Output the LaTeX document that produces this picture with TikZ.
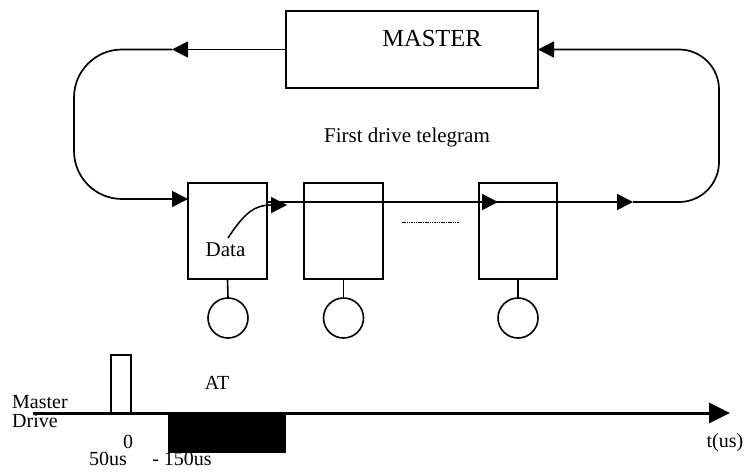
\documentclass[tikz,border=0pt]{standalone}
\usepackage{fontspec}
\setmainfont{Liberation Serif}
\usetikzlibrary{arrows.meta}

\tikzset{
  unitbox/.style={draw, line width=1.6pt, minimum width=79pt, minimum height=96pt, inner sep=0pt, outer sep=0pt},
  masterbox/.style={draw, line width=1.6pt, minimum width=252pt, minimum height=77pt, inner sep=0pt, outer sep=0pt},
  drivecirc/.style={draw, circle, line width=1.6pt, minimum size=40pt, inner sep=0pt, outer sep=0pt},
  ringline/.style={line width=1.7pt},
  headarr/.style={-{Triangle[length=16pt,width=16pt]}},
  bigfont/.style={font=\fontsize{24.5}{28}\selectfont, inner sep=0pt},
  midfont/.style={font=\fontsize{21}{24}\selectfont, inner sep=0pt},
  smallfont/.style={font=\fontsize{20}{23}\selectfont, inner sep=0pt},
}

\begin{document}
\begin{tikzpicture}[x=1pt, y=-1pt]
\useasboundingbox (0,0) rectangle (749,471);

% master station
\node[masterbox] (master) at (412,49.5) {};
\node[bigfont] (mastertext) at (432,39) {MASTER};
\node[midfont] (telegram) at (407,137) {First drive telegram};

% drive units
\node[unitbox] (u1) at (227.5,231) {};
\node[unitbox] (u2) at (343.5,231) {};
\node[unitbox, minimum width=78pt] (u3) at (518,231) {};

\node[drivecirc] (c1) at (228,318) {};
\node[drivecirc] (c2) at (343.5,318) {};
\node[drivecirc] (c3) at (518,318) {};
\draw[line width=1.6pt] (u1.south) -- (c1.north);
\draw[line width=1.6pt] (u2.south) -- (c2.north);
\draw[line width=1.6pt] (u3.south) -- (c3.north);

\node[midfont] (data) at (225.5,250) {Data};

% ring coordinates
\coordinate (tl) at (172,49.5);
\coordinate (in1) at (188,199);
\coordinate (out1) at (267,202);
\coordinate (in3) at (498,202);
\coordinate (ringend) at (633,202);
\coordinate (dtip) at (287,205);
\coordinate (dstart) at (228,238);

% left return path
\draw[ringline, headarr] (master.west) -- (tl);
\draw[ringline, headarr, rounded corners=48pt] (tl) -- (74,49.5) -- (74,199) -- (in1);

% telegram line through the drives
\draw[ringline] (out1) -- (in3);
\draw[ringline, headarr] (u2.west |- in3) -- (in3);
\draw[ringline, headarr] (in3) -- (ringend);

% right return path
\draw[ringline, headarr, rounded corners=40pt] (ringend) -- (719,202) -- (719,49.5) -- (master.east);

% data insertion
\draw[line width=1.5pt, headarr] (dstart) .. controls (245,212) and (255,205) .. (dtip);

% further drives
\draw[line width=1pt, dash pattern=on 1.5pt off 0.8pt] (402,222) -- (459,222);

% time axis
\coordinate (t0) at (33,413);
\coordinate (tend) at (730,413);
\draw[line width=3pt, -{Triangle[length=21pt,width=20pt]}] (t0) -- (tend);
\draw[line width=1.5pt] (111,413) -- (111,355) -- (131,355) -- (131,413);
\fill (168,413) rectangle (286,453);

\node[smallfont, anchor=base west] (mlab) at (12,408) {Master};
\node[smallfont, anchor=base west] (dlab) at (12,427) {Drive};
\node[smallfont] (zero) at (128,442) {0};
\node[smallfont, anchor=base] (t50) at (108,465) {50us};
\node[smallfont, anchor=base] (t150) at (182,465) {- 150us};
\node[smallfont] (atlab) at (217,383) {AT};
\node[smallfont] (tlab) at (725,443) {t(us)};
\end{tikzpicture}
\end{document}
